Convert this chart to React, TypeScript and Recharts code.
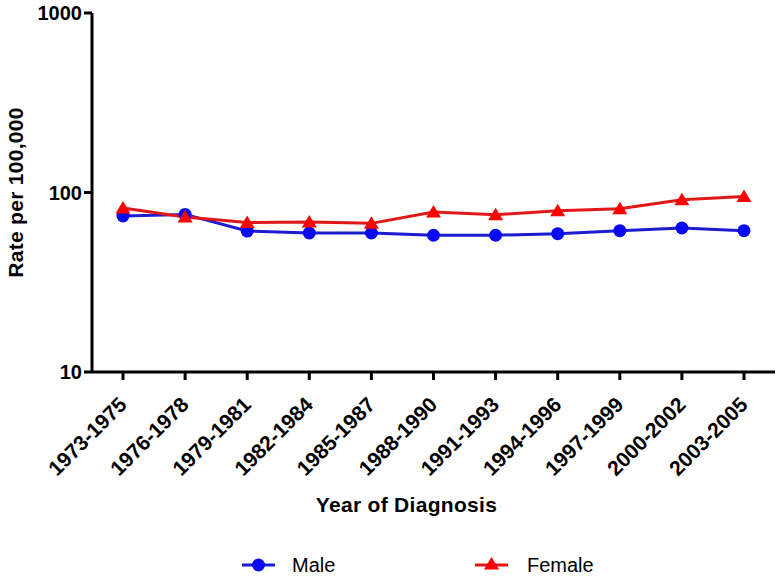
import { LineChart, Line, XAxis, YAxis, Legend, Label } from 'recharts';

const periods = [
  '1973-1975', '1976-1978', '1979-1981', '1982-1984', '1985-1987', '1988-1990',
  '1991-1993', '1994-1996', '1997-1999', '2000-2002', '2003-2005',
];
const maleRates = [74, 75.5, 61, 59.5, 59.5, 57.8, 57.8, 59, 61.3, 63.4, 61.3];
const femaleRates = [82, 73, 68, 68.4, 67.3, 77.8, 75.2, 79.1, 81.1, 91, 95];
const yTicks = [10, 100, 1000];

const data = periods.map((period, i) => ({
  period,
  male: maleRates[i],
  female: femaleRates[i],
}));

const FONT = 'Arial, "Liberation Sans", sans-serif';
const MALE_COLOR = '#0a0af0';
const MALE_LINE = '#1c1cd0';
const FEMALE_COLOR = '#ff0000';
const FEMALE_LINE = '#e01818';

function Triangle({ cx, cy, fill }: { cx?: number; cy?: number; fill: string }) {
  if (cx == null || cy == null) return null;
  return (
    <polygon
      points={`${cx},${cy - 7} ${cx - 7.5},${cy + 5.5} ${cx + 7.5},${cy + 5.5}`}
      fill={fill}
    />
  );
}

function XTick({ x, y, payload }: any) {
  return (
    <g transform={`translate(${x + 5},${y + 24})`}>
      <text
        textAnchor="end"
        transform="rotate(-45)"
        fontFamily={FONT}
        fontWeight="bold"
        fontSize={21}
        fill="#000"
      >
        {payload.value}
      </text>
    </g>
  );
}

function YTitle({ viewBox }: any) {
  const cx = 15;
  const cy = viewBox.y + viewBox.height / 2;
  return (
    <text
      x={cx}
      y={cy}
      transform={`rotate(-90, ${cx}, ${cy})`}
      textAnchor="middle"
      dominantBaseline="central"
      fontFamily={FONT}
      fontWeight="bold"
      fontSize={21}
      letterSpacing={0.3}
      fill="#000"
    >
      Rate per 100,000
    </text>
  );
}

function LegendContent() {
  return (
    <svg width={781} height={50} style={{ display: 'block' }}>
      <line x1={242} x2={275} y1={38} y2={38} stroke={MALE_LINE} strokeWidth={3} />
      <circle cx={258.5} cy={38} r={6.5} fill={MALE_COLOR} />
      <text x={292} y={45} fontFamily={FONT} fontSize={20} fill="#000">Male</text>
      <line x1={475} x2={508} y1={38} y2={38} stroke={FEMALE_LINE} strokeWidth={3} />
      <Triangle cx={491.5} cy={37} fill={FEMALE_COLOR} />
      <text x={527} y={45} fontFamily={FONT} fontSize={20} fill="#000">Female</text>
    </svg>
  );
}

export default function App() {
  return (
    <div style={{ position: 'absolute', left: 0, top: 0, width: 781, height: 577, background: '#fff' }}>
      <LineChart width={781} height={577} data={data} margin={{ top: 13, right: 6, bottom: 0, left: 0 }}>
        <XAxis
          dataKey="period"
          height={155}
          padding={{ left: 31, right: 31 }}
          axisLine={{ stroke: '#000', strokeWidth: 3 }}
          tickLine={{ stroke: '#000', strokeWidth: 3 }}
          tickSize={8}
          tick={<XTick />}
          interval={0}
        >
          <Label
            value="Year of Diagnosis"
            position="insideBottom"
            offset={15}
            dx={-27}
            style={{ fontFamily: FONT, fontWeight: 'bold', fontSize: 21, fill: '#000', letterSpacing: 0.3 }}
          />
        </XAxis>
        <YAxis
          scale="log"
          domain={[10, 1000]}
          ticks={yTicks}
          allowDataOverflow
          width={92}
          axisLine={{ stroke: '#000', strokeWidth: 3 }}
          tickLine={{ stroke: '#000', strokeWidth: 3 }}
          tickSize={8}
          tickMargin={2}
          tick={{ fontFamily: FONT, fontWeight: 'bold', fontSize: 20, fill: '#000' }}
          label={<YTitle />}
        />
        <Legend verticalAlign="bottom" height={50} content={<LegendContent />} />
        <Line
          dataKey="male"
          name="Male"
          stroke={MALE_LINE}
          strokeWidth={3}
          dot={{ r: 6.5, fill: MALE_COLOR, stroke: 'none' }}
          isAnimationActive={false}
        />
        <Line
          dataKey="female"
          name="Female"
          stroke={FEMALE_LINE}
          strokeWidth={3}
          dot={(p: any) => <Triangle key={p.index} cx={p.cx} cy={p.cy} fill={FEMALE_COLOR} />}
          isAnimationActive={false}
        />
      </LineChart>
    </div>
  );
}
